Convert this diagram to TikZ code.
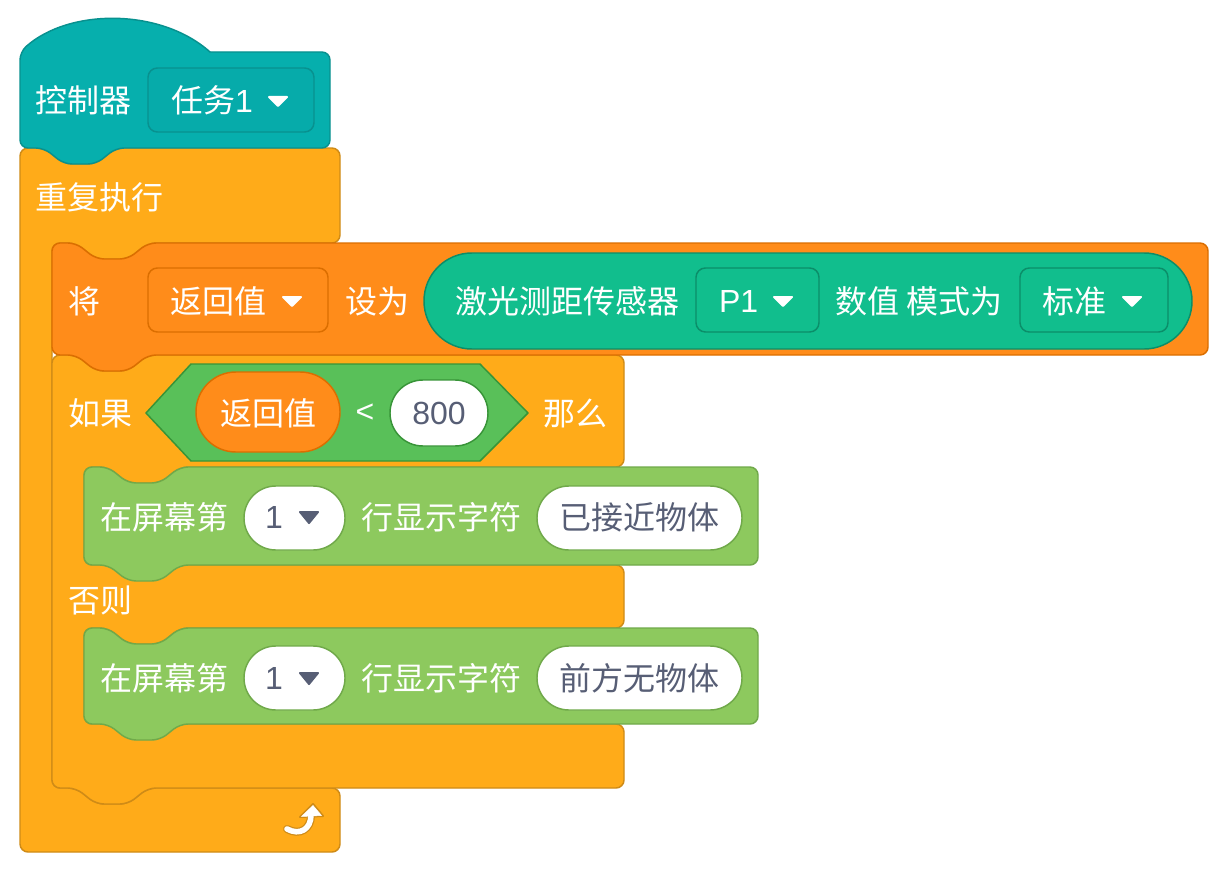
\documentclass[tikz,border=0pt]{standalone}
\usepackage{fontspec}
\setmainfont{Noto Sans CJK SC}
\newfontfamily\latinf{Liberation Sans}
\definecolor{hatC}{HTML}{06AFAD}
\definecolor{hatS}{HTML}{08918F}
\definecolor{ctrlC}{HTML}{FFAB19}
\definecolor{ctrlS}{HTML}{CF8B17}
\definecolor{varC}{HTML}{FF8C1A}
\definecolor{varS}{HTML}{DB6E00}
\definecolor{senC}{HTML}{11BE8D}
\definecolor{senS}{HTML}{0B8E69}
\definecolor{boolC}{HTML}{59C059}
\definecolor{boolS}{HTML}{389438}
\definecolor{dispC}{HTML}{8DC95E}
\definecolor{dispS}{HTML}{70A94A}
\definecolor{fieldT}{HTML}{575E75}
\newcommand\ntop[2]{-- (#1,#2) -- ++(20,16) -- ++(32,0) -- ++(20,-16)}
\newcommand\nbot[2]{-- ({#1+72},#2) -- ++(-20,16) -- ++(-32,0) -- ++(-20,-16)}
\tikzset{
  blk/.style={line width=1.1pt, rounded corners=6pt, line join=round},
  txt/.style={inner sep=0pt, outer sep=0pt, text=white, font=\fontsize{24}{28}\selectfont},
  ftxt/.style={txt, text=fieldT},
  dd/.style={line width=1.1pt, rounded corners=7pt},
  pill/.style={line width=1.1pt, fill=white},
  tri/.style={fill=white, draw=white, line width=1.5pt, line join=round},
  dtri/.style={fill=fieldT, draw=fieldT, line width=1.5pt, line join=round}
}
\begin{document}
\begin{tikzpicture}[x=0.75pt,y=-0.75pt]
\useasboundingbox[fill=white] (0,0) rectangle (1228,874);

% forever block
\draw[blk, fill=ctrlC, draw=ctrlS] (20,148) \ntop{44}{148} -- (340,148) -- (340,243) \nbot{76}{243} -- (52,243) -- (52,788) \ntop{76}{788} -- (340,788) -- (340,852) -- (20,852) -- cycle;

% hat block
\draw[line width=1.1pt, line join=round, fill=hatC, draw=hatS] (20,52) .. controls (69,8) and (161,8) .. (210,52) [rounded corners=6pt] -- (330,52) -- (330,148) \nbot{44}{148} -- (20,148) -- cycle;

% if-else block
\draw[blk, fill=ctrlC, draw=ctrlS] (52,355) \ntop{76}{355} -- (624,355) -- (624,467) \nbot{108}{467} -- (84,467) -- (84,565) -- (624,565) -- (624,628) \nbot{108}{628} -- (84,628) -- (84,724) -- (624,724) -- (624,788) \nbot{76}{788} -- (52,788) -- cycle;

% set block
\draw[blk, fill=varC, draw=varS] (52,243) \ntop{76}{243} -- (1208,243) -- (1208,355) \nbot{76}{355} -- (52,355) -- cycle;

% display blocks
\draw[blk, fill=dispC, draw=dispS] (84,467) \ntop{108}{467} -- (758,467) -- (758,565) \nbot{108}{565} -- (84,565) -- cycle;
\draw[blk, fill=dispC, draw=dispS] (84,628) \ntop{108}{628} -- (758,628) -- (758,724) \nbot{108}{724} -- (84,724) -- cycle;

% hat contents
\node[txt, anchor=west] (hatlabel) at (36,100) {控制器};
\draw[dd, fill=hatC!98!black, draw=hatS] (148,68) rectangle (314,132);
\node[txt, anchor=west] (task) at (171,100) {任务{\latinf 1}};
\draw[tri] (269,97) -- (287,97) -- (278,106) -- cycle;

% forever label
\node[txt, anchor=west] (forever) at (36,197) {重复执行};

% set block contents
\node[txt, anchor=west] (jiang) at (68,301) {将};
\draw[dd, fill=varC, draw=varS] (148,268) rectangle (328,332);
\node[txt, anchor=west] (varname) at (170,301) {返回值};
\draw[tri] (283,297) -- (301,297) -- (292,306) -- cycle;
\node[txt, anchor=west] (setto) at (345,301) {设为};
\draw[line width=1.1pt, fill=senC, draw=senS, rounded corners=35.9pt] (424,253) rectangle (1192,349);
\node[txt, anchor=west] (sensor) at (455,301) {激光测距传感器};
\draw[dd, fill=senC, draw=senS] (696,268) rectangle (819,332);
\node[txt, anchor=west, font=\fontsize{24}{28}\latinf] (port) at (719,301) {P1};
\draw[tri] (774,297) -- (792,297) -- (783,306) -- cycle;
\node[txt, anchor=west] (mode) at (835,301) {数值 模式为};
\draw[dd, fill=senC, draw=senS] (1020,268) rectangle (1168,332);
\node[txt, anchor=west] (std) at (1042,301) {标准};
\draw[tri] (1123,297) -- (1141,297) -- (1132,306) -- cycle;

% if contents
\node[txt, anchor=west] (ruguo) at (68,413) {如果};
\draw[line width=1.1pt, fill=boolC, draw=boolS, line join=round] (146,413) -- (191,364) -- (480,364) -- (528,413) -- (480,461) -- (191,461) -- cycle;
\draw[line width=1.1pt, fill=varC, draw=varS, rounded corners=29.9pt] (196,372) rectangle (340,452);
\node[txt] (retval) at (268,413) {返回值};
\node[txt, font=\fontsize{24}{28}\latinf] (lt) at (365,413) {<};
\draw[pill, draw=boolS, rounded corners=24.7pt] (390,380) rectangle (488,446);
\node[ftxt, font=\fontsize{24}{28}\latinf] (num) at (439,413) {800};
\node[txt, anchor=west] (name) at (543,413) {那么};

% display 1
\node[txt, anchor=west] (row1a) at (100,517) {在屏幕第};
\draw[pill, draw=dispS, rounded corners=23.9pt] (244,486) rectangle (345,550);
\node[ftxt, font=\fontsize{24}{28}\latinf] (one1) at (274,517) {1};
\draw[dtri] (300,512) -- (318,512) -- (309,523) -- cycle;
\node[txt, anchor=west] (row1b) at (361,517) {行显示字符};
\draw[pill, draw=dispS, rounded corners=23.9pt] (537,486) rectangle (742,550);
\node[ftxt] (msg1) at (639.5,517) {已接近物体};

% else
\node[txt, anchor=west] (fouze) at (68,600) {否则};

% display 2
\node[txt, anchor=west] (row2a) at (100,678) {在屏幕第};
\draw[pill, draw=dispS, rounded corners=23.9pt] (244,646) rectangle (345,710);
\node[ftxt, font=\fontsize{24}{28}\latinf] (one2) at (274,678) {1};
\draw[dtri] (300,673) -- (318,673) -- (309,684) -- cycle;
\node[txt, anchor=west] (row2b) at (361,678) {行显示字符};
\draw[pill, draw=dispS, rounded corners=23.9pt] (537,646) rectangle (742,710);
\node[ftxt] (msg2) at (639.5,678) {前方无物体};

% loop arrow
\draw[ctrlS, line width=6pt, line cap=round] (287,829) .. controls (300,836) and (311,829) .. (311,815);
\draw[ctrlS, line width=1.5pt, fill=ctrlS, line join=round] (300,817) -- (313,804) -- (323,816) -- cycle;
\draw[white, line width=4.2pt, line cap=round] (287,829) .. controls (300,836) and (311,829) .. (311,815);
\draw[white, fill=white, line join=round] (301.5,816.5) -- (313,805.5) -- (321.5,815.5) -- cycle;
\end{tikzpicture}
\end{document}
